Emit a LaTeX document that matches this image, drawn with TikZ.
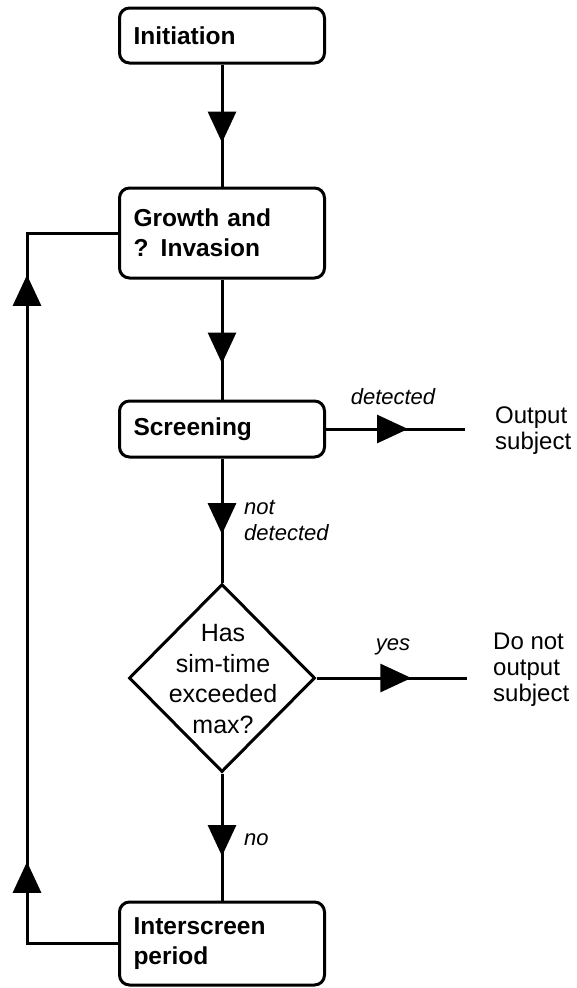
\documentclass[tikz,border=0pt]{standalone}
\usepackage{fontspec}
\setmainfont{Liberation Sans}
\usetikzlibrary{shapes.geometric,arrows.meta,decorations.markings}
\begin{document}
\begin{tikzpicture}[x=1pt,y=-1pt,
  procbox/.style={draw, line width=3pt, rounded corners=10pt, inner xsep=14pt, inner ysep=0pt,
    text width=177pt, align=left, font=\fontsize{24.5}{30}\selectfont\bfseries, minimum height=#1},
  dia/.style={draw, diamond, line width=3pt, minimum width=186pt, minimum height=188pt, inner sep=0pt},
  diatext/.style={align=center, inner sep=0pt, font=\fontsize{25}{30.5}\selectfont},
  outtxt/.style={align=left, inner sep=0pt, font=\fontsize{24}{26}\selectfont},
  lab/.style={inner sep=0pt, align=left, font=\fontsize{22}{26}\selectfont\itshape},
  flow/.style={line width=3pt},
  tri/.tip={Triangle[length=31pt,width=28pt]},
  midarrow/.style={postaction={decorate, decoration={markings, mark=at position #1 with {\arrow{tri}}}}},
  looparrows/.style={postaction={decorate, decoration={markings,
      mark=at position 0.115 with {\arrow{tri}},
      mark=at position 0.941 with {\arrow{tri}}}}}
]
\useasboundingbox (0,0) rectangle (576,988);

\node[procbox=55pt] (init) at (222,35.5) {Initiation};
\node[procbox=90pt] (grow) at (222,233) {Growth and\\? Invasion};
\node[procbox=56pt] (scr) at (222,429) {Screening};
\node[dia] (dec) at (222,678) {};
\node[diatext] (dectext) at (223,679) {Has\\sim-time\\exceeded\\max?};
\node[procbox=83pt] (inter) at (222,943.5) {Interscreen\\period};

\draw[flow, midarrow=0.64] (init.south) -- (grow.north);
\draw[flow, midarrow=0.70] (grow.south) -- (scr.north);
\draw[flow, midarrow=0.61] (scr.south) -- (dec.north);
\draw[flow, midarrow=0.65] (dec.south) -- (inter.north);

\coordinate (detend) at (465,429);
\draw[flow, midarrow=0.59] (scr.east) -- (detend);
\coordinate (yesend) at (467,678);
\draw[flow, midarrow=0.63] (dec.east) -- (yesend);

\coordinate (lb) at (27,943.5);
\coordinate (lt) at (27,233);
\draw[flow] (inter.west) -- (lb) -- (lt) -- (grow.west);
\draw[flow, looparrows] (lb) -- (lt);

\node[lab] (ldet) at (393,397) {detected};
\node[outtxt, anchor=west] (out1) at (495,430.5) {Output\\subject};
\node[lab, anchor=west] (lnd) at (244,520) {not\\detected};
\node[lab] (lyes) at (393,647) {yes};
\node[outtxt, anchor=west] (out2) at (493,670) {Do not\\output\\subject};
\node[lab, anchor=west] (lno) at (244,840) {no};
\end{tikzpicture}
\end{document}
